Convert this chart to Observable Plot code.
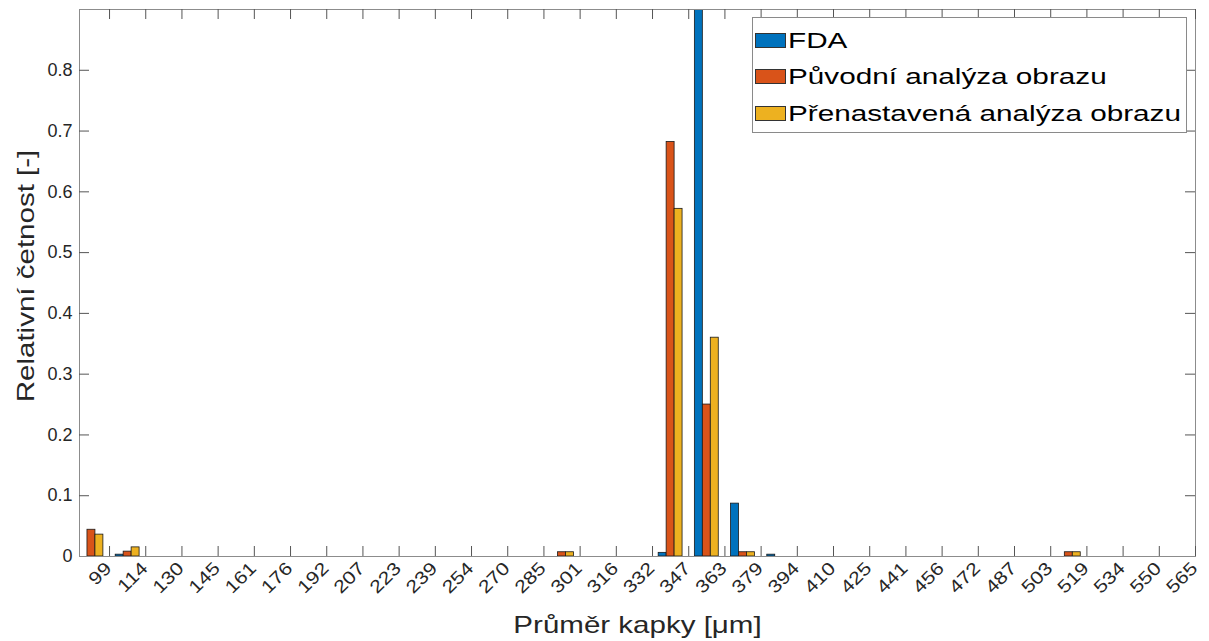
<!DOCTYPE html>
<html>
<head>
<meta charset="utf-8">
<script src="https://cdn.jsdelivr.net/npm/d3@7"></script>
<script src="https://cdn.jsdelivr.net/npm/@observablehq/plot@0.6"></script>
<style>
  html, body { margin: 0; padding: 0; background: #fff; }
  #wrap { position: relative; width: 1209px; height: 641px; font-family: "Liberation Sans", Arial, sans-serif; }
  #legend { position: absolute; left: 752px; top: 17px; width: 435px; height: 116px; border: 1px solid #8a8a8a; background: #fff; box-sizing: border-box; }
  .row { position: absolute; left: 0; height: 36px; width: 430px; }
  .sw { position: absolute; left: 2px; top: 10px; width: 31px; height: 15px; border: 1px solid #333; box-sizing: border-box; }
  .lt { position: absolute; left: 35px; top: 0; height: 36px; line-height: 36px; font-size: 22px; color: #000; white-space: nowrap; transform: scaleX(1.35); transform-origin: 0 50%; }
</style>
</head>
<body>
<div id="wrap"><div id="legend"></div></div>
<script>
const tickLabels = ["99","114","130","145","161","176","192","207","223","239","254","270","285","301","316","332","347","363","379","394","410","425","441","456","472","487","503","519","534","550","565"];
const seriesNames = ["FDA", "Původní analýza obrazu", "Přenastavená analýza obrazu"];
const seriesColors = ["#0072BD", "#D95319", "#EDB120"];
// one value per bin (31 bins; bin i lies just left of tick label i)
const fda  = [0, 0.003, 0, 0, 0, 0, 0, 0, 0, 0, 0, 0, 0, 0, 0, 0, 0.006, 0.91, 0.087, 0.003, 0, 0, 0, 0, 0, 0, 0, 0, 0, 0, 0];
const orig = [0.044, 0.008, 0, 0, 0, 0, 0, 0, 0, 0, 0, 0, 0, 0.007, 0, 0, 0.682, 0.250, 0.007, 0, 0, 0, 0, 0, 0, 0, 0, 0.007, 0, 0, 0];
const adj  = [0.036, 0.015, 0, 0, 0, 0, 0, 0, 0, 0, 0, 0, 0, 0.007, 0, 0, 0.572, 0.360, 0.007, 0, 0, 0, 0, 0, 0, 0, 0, 0.007, 0, 0, 0];
const yTicks = [0, 0.1, 0.2, 0.3, 0.4, 0.5, 0.6, 0.7, 0.8];
const xTitle = "Průměr kapky [μm]";
const yTitle = "Relativní četnost [-]";

const allSeries = [fda, orig, adj];
const barW = 0.22;
const rows = [];
allSeries.forEach((vals, s) => {
  vals.forEach((v, i) => {
    if (v > 0) {
      const c = i + (s - 1) * barW;
      rows.push({series: seriesNames[s], value: v, x1: c - barW / 2, x2: c + barW / 2});
    }
  });
});
const tickPos = tickLabels.map((d, i) => i + 0.5);

const W = 1209, H = 641, mL = 79, mR = 14, mT = 9, mB = 85;
const fw = W - mL - mR, fh = H - mT - mB;
const txt = "#262626";

const chart = Plot.plot({
  width: W, height: H,
  marginLeft: mL, marginRight: mR, marginTop: mT, marginBottom: mB,
  style: {fontFamily: "'Liberation Sans', Arial, sans-serif", background: "white", overflow: "visible"},
  x: {domain: [-0.33, 30.5], axis: null},
  y: {domain: [0, 0.9], axis: null},
  color: {domain: seriesNames, range: seriesColors},
  marks: [
    Plot.rect(rows, {x1: "x1", x2: "x2", y1: 0, y2: "value", fill: "series", stroke: "#1a1a1a", strokeWidth: 0.8, clip: "frame"}),
    Plot.frame({stroke: "#8c8c8c", strokeWidth: 1}),
    Plot.ruleX(tickPos, {insetTop: fh - 10, stroke: "#555"}),
    Plot.ruleX(tickPos, {insetBottom: fh - 10, stroke: "#555"}),
    Plot.ruleY(yTicks.slice(1), {insetRight: fw - 10, stroke: "#555"}),
    Plot.ruleY(yTicks.slice(1), {insetLeft: fw - 10, stroke: "#555"}),
    Plot.text(yTicks, {y: d => d, frameAnchor: "left", text: d => d === 0 ? "0" : d.toFixed(1), textAnchor: "end", dx: -7, fontSize: 18, fill: txt, className: "yticklabels"}),
    Plot.text(tickPos, {x: d => d, frameAnchor: "bottom", text: (d, i) => tickLabels[i], rotate: -45, textAnchor: "end", dx: 3, dy: 13, fontSize: 18, fill: txt, className: "xticklabels"}),
    Plot.text([xTitle], {frameAnchor: "bottom", dy: 76, lineAnchor: "bottom", textAnchor: "middle", fontSize: 24, fill: txt, className: "xtitle"}),
    Plot.text([yTitle], {frameAnchor: "left", dx: -53, dy: -7, rotate: -90, textAnchor: "middle", lineAnchor: "middle", fontSize: 24, fill: txt, className: "ytitle"})
  ]
});
const wrap = document.getElementById("wrap");
wrap.insertBefore(chart, wrap.firstChild);

// widen glyphs to match the reference's broad sans-serif
const textGroups = chart.querySelectorAll('g[aria-label="text"]');
function groupFor(cls, idx) {
  return chart.querySelector("g." + cls) || textGroups[idx];
}
function stretch(cls, idx, k) {
  const g = groupFor(cls, idx);
  if (!g) return;
  g.querySelectorAll("text").forEach(t => {
    const tr = t.getAttribute("transform");
    if (tr && tr.includes("rotate")) {
      t.setAttribute("transform", tr + ` scale(${k},1)`);
    } else {
      const L = t.getComputedTextLength();
      if (L > 0) {
        t.setAttribute("textLength", (L * k).toFixed(1));
        t.setAttribute("lengthAdjust", "spacingAndGlyphs");
      }
    }
  });
}
stretch("xticklabels", 1, 1.18);
stretch("xtitle", 2, 1.23);
stretch("ytitle", 3, 1.23);

const legend = document.getElementById("legend");
seriesNames.forEach((n, i) => {
  const r = document.createElement("div");
  r.className = "row";
  r.style.top = (5 + i * 36.3) + "px";
  const sw = document.createElement("div");
  sw.className = "sw";
  sw.style.background = seriesColors[i];
  const t = document.createElement("span");
  t.className = "lt";
  t.textContent = n;
  r.appendChild(sw); r.appendChild(t);
  legend.appendChild(r);
});
</script>
</body>
</html>
